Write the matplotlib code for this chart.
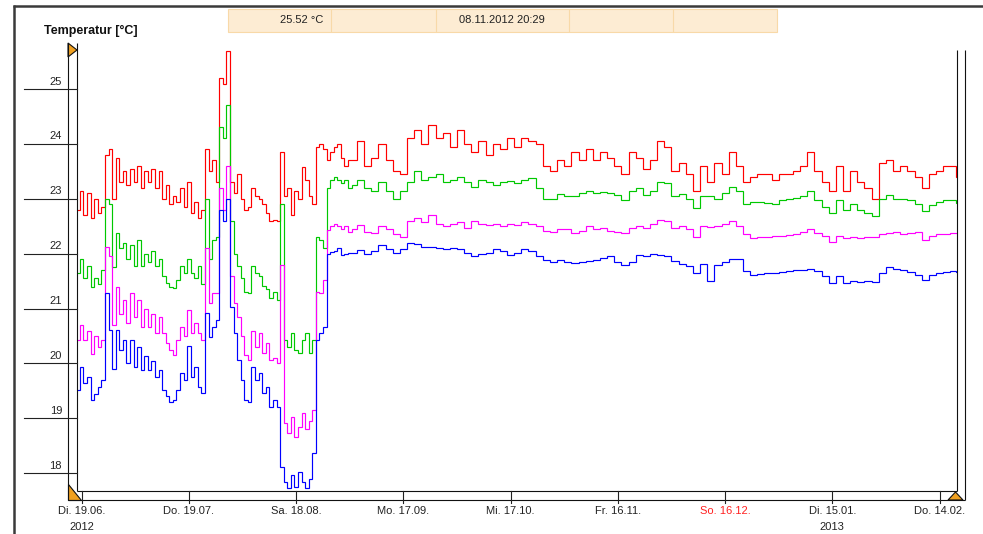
import numpy as np
import matplotlib
matplotlib.use("Agg")
import matplotlib.pyplot as plt
from matplotlib.lines import Line2D
from matplotlib.patches import Polygon, Rectangle
import matplotlib.transforms as mtransforms

plt.rcParams['font.family'] = ['Liberation Sans', 'DejaVu Sans']

# ---------------- data ----------------
# days since Di. 19.06.2012 (daily until day 75, then every 2 days)
days = np.concatenate([np.arange(-1, 76), np.arange(76, 245, 2), [245]])

red = [
    22.8, 23.15, 22.7, 23.1, 22.65, 23.0, 22.75, 22.85, 23.8, 23.9,
    23.0, 23.75, 23.3, 23.5, 23.25, 23.55, 23.3, 23.6, 23.2, 23.5,
    23.3, 23.55, 23.2, 23.5, 23.0, 23.25, 22.9, 23.05, 22.95, 23.2,
    22.85, 23.3, 22.75, 22.95, 22.65, 22.8, 23.9, 23.5, 23.7, 23.3,
    25.2, 25.1, 25.7, 23.3, 23.1, 23.45, 23.0, 22.8, 22.85, 23.2,
    23.05, 23.0, 22.9, 22.75, 22.6, 22.62, 22.6, 23.85, 23.05, 23.2,
    22.7, 23.15, 23.0, 23.58, 23.35, 23.05, 22.9, 23.95, 24.0, 23.9,
    23.7, 23.85, 23.95, 24.0, 23.75, 23.6, 23.7,
    23.7, 24.05, 23.6, 23.75, 24.0, 23.7, 23.5, 23.45, 24.1, 24.25,
    24.0, 24.35, 24.1, 24.2, 23.95, 24.25, 24.0, 23.85, 24.05, 23.8,
    24.0, 23.9, 24.1, 23.95, 24.1, 24.05, 24.0, 23.6, 23.5, 23.7,
    23.6, 23.85, 23.7, 23.9, 23.7, 23.85, 23.75, 23.6, 23.45, 23.85,
    23.75, 23.55, 23.7, 24.05, 23.95, 23.5, 23.65, 23.45, 23.15, 23.6,
    23.3, 23.65, 23.45, 23.85, 23.6, 23.3, 23.4, 23.45, 23.45, 23.35,
    23.45, 23.45, 23.5, 23.6, 23.85, 23.5, 23.3, 23.15, 23.6, 23.15,
    23.5, 23.3, 23.2, 23.0, 23.65, 23.7, 23.5, 23.6, 23.5, 23.4,
    23.2, 23.45, 23.5, 23.6, 23.6,
    23.4,
]

green = [
    21.65, 21.9, 21.55, 21.77, 21.4, 21.55, 21.45, 21.7, 23.0, 22.9,
    21.75, 22.38, 22.1, 22.2, 21.9, 22.15, 21.78, 22.25, 21.78, 22.0,
    21.85, 22.05, 21.78, 21.9, 21.6, 21.47, 21.4, 21.38, 21.53, 21.78,
    21.65, 21.9, 21.65, 21.55, 21.78, 21.45, 23.0, 21.9, 22.25, 22.3,
    24.3, 24.1, 24.7, 22.6, 22.0, 21.78, 21.55, 21.3, 21.28, 21.78,
    21.65, 21.6, 21.42, 21.35, 21.2, 21.3, 21.15, 22.9, 20.43, 20.3,
    20.55, 20.25, 20.2, 20.43, 20.55, 20.2, 20.43, 22.3, 22.25, 22.1,
    23.2, 23.35, 23.4, 23.35, 23.28, 23.35, 23.2,
    23.25, 23.35, 23.2, 23.15, 23.3, 23.15, 23.0, 23.15, 23.3, 23.5,
    23.35, 23.4, 23.45, 23.3, 23.35, 23.4, 23.3, 23.22, 23.35, 23.3,
    23.25, 23.3, 23.32, 23.28, 23.35, 23.38, 23.2, 23.0, 23.0, 23.08,
    23.05, 23.05, 23.1, 23.15, 23.1, 23.13, 23.1, 23.07, 22.98, 23.15,
    23.2, 23.07, 23.15, 23.3, 23.28, 23.05, 23.08, 23.0, 22.83, 23.05,
    23.05, 23.0, 23.1, 23.22, 23.15, 22.9, 22.95, 22.95, 22.92, 22.9,
    22.97, 23.0, 23.02, 23.05, 23.15, 22.98, 22.85, 22.74, 22.98, 22.8,
    22.9, 22.8, 22.75, 22.68, 23.0, 23.07, 23.0, 23.0, 22.97, 22.9,
    22.78, 22.88, 22.95, 22.98, 22.97,
    22.93,
]

magenta = [
    20.43, 20.7, 20.43, 20.6, 20.17, 20.5, 20.3, 20.43, 22.12, 21.95,
    20.7, 21.4, 20.9, 21.15, 20.73, 21.28, 20.85, 21.15, 20.67, 21.0,
    20.67, 20.9, 20.56, 20.85, 20.56, 20.37, 20.25, 20.16, 20.43, 20.67,
    20.5, 20.97, 20.56, 20.73, 20.56, 20.43, 22.1, 21.1, 21.28, 21.28,
    23.2, 22.8, 23.6, 21.6, 21.1, 20.85, 20.5, 20.15, 20.06, 20.6,
    20.3, 20.55, 20.2, 20.37, 20.06, 20.1, 20.0, 21.8, 18.91, 18.73,
    19.03, 18.67, 18.85, 19.1, 18.8, 18.95, 19.15, 21.3, 21.28, 21.52,
    22.43, 22.5, 22.55, 22.5, 22.45, 22.5, 22.4,
    22.45, 22.52, 22.4, 22.38, 22.5, 22.45, 22.35, 22.3, 22.6, 22.65,
    22.58, 22.7, 22.55, 22.5, 22.55, 22.58, 22.47, 22.6, 22.55, 22.52,
    22.55, 22.5, 22.55, 22.52, 22.58, 22.55, 22.5, 22.42, 22.4, 22.45,
    22.45, 22.38, 22.42, 22.5, 22.45, 22.47, 22.42, 22.4, 22.38, 22.47,
    22.5, 22.47, 22.55, 22.62, 22.6, 22.47, 22.5, 22.45, 22.31, 22.5,
    22.48, 22.5, 22.55, 22.6, 22.5, 22.35, 22.28, 22.3, 22.31, 22.32,
    22.33, 22.34, 22.36, 22.4, 22.45, 22.38, 22.32, 22.22, 22.32, 22.28,
    22.3, 22.28, 22.3, 22.3, 22.35, 22.38, 22.4, 22.35, 22.38, 22.4,
    22.25, 22.33, 22.35, 22.36, 22.38,
    22.38,
]

blue = [
    19.52, 19.94, 19.64, 19.76, 19.34, 19.45, 19.58, 19.7, 21.28, 20.61,
    19.9, 20.61, 20.25, 20.43, 20.0, 20.43, 19.94, 20.3, 19.88, 20.13,
    19.88, 20.05, 19.76, 19.88, 19.52, 19.4, 19.3, 19.34, 19.52, 19.82,
    19.7, 20.31, 19.76, 19.94, 19.58, 19.46, 20.92, 20.49, 20.67, 20.8,
    22.8, 22.6, 23.0, 21.03, 20.56, 20.06, 19.7, 19.34, 19.3, 19.94,
    19.7, 19.82, 19.46, 19.58, 19.21, 19.34, 19.21, 18.12, 17.85, 17.73,
    17.97, 17.75, 18.03, 17.85, 17.73, 17.9, 18.37, 20.43, 20.55, 20.67,
    22.0, 22.03, 22.05, 22.1, 21.98, 22.0, 22.02,
    22.02, 22.06, 22.0, 22.05, 22.15, 22.08, 22.02, 22.08, 22.2, 22.17,
    22.13, 22.12, 22.1, 22.08, 22.1, 22.08, 22.02, 21.95, 22.0, 22.02,
    22.08, 22.05, 21.98, 22.02, 22.08, 22.05, 21.95, 21.88, 21.85, 21.88,
    21.85, 21.83, 21.85, 21.87, 21.88, 21.92, 21.95, 21.85, 21.8, 21.85,
    21.97, 21.95, 22.0, 21.98, 21.95, 21.87, 21.82, 21.78, 21.65, 21.82,
    21.5, 21.8, 21.85, 21.9, 21.9, 21.68, 21.62, 21.63, 21.65, 21.65,
    21.66, 21.68, 21.7, 21.7, 21.72, 21.68, 21.6, 21.46, 21.6, 21.47,
    21.5, 21.48, 21.5, 21.48, 21.65, 21.76, 21.72, 21.7, 21.67, 21.62,
    21.52, 21.62, 21.65, 21.66, 21.68,
    21.67,
]

series_colors = ['#ff0000', '#00c800', '#ff00ff', '#0000ff']

y_ticks = [18, 19, 20, 21, 22, 23, 24, 25]
x_tick_days = [0, 30, 60, 90, 120, 150, 180, 210, 240]
x_tick_labels = ['Di. 19.06.', 'Do. 19.07.', 'Sa. 18.08.', 'Mo. 17.09.', 'Mi. 17.10.',
                 'Fr. 16.11.', 'So. 16.12.', 'Di. 15.01.', 'Do. 14.02.']
x_tick_colors = ['#222222'] * 6 + ['#ff2020'] + ['#222222'] * 2
year_labels = {0: '2012', 210: '2013'}

title = 'Temperatur [°C]'
cursor_value = '25.52 °C'
cursor_time = '08.11.2012 20:29'

# ---------------- layout helpers ----------------
W, H = 983, 534
fig = plt.figure(figsize=(W / 100, H / 100), dpi=100)
fig.patch.set_facecolor('white')


def fx(p):
    return p / W


def fy(p):
    return 1 - p / H


def fline(x0, y0, x1, y1, color='#111111', lw=0.8):
    fig.add_artist(Line2D([fx(x0), fx(x1)], [fy(y0), fy(y1)], transform=fig.transFigure,
                          color=color, lw=lw, solid_capstyle='butt'))


L, R, T, B = 76.7, 956.7, 43, 490.7
ax = fig.add_axes([fx(L), fy(B), fx(R) - fx(L), fy(T) - fy(B)])
ax.set_xlim(-1.4, 244.8)
ax.set_ylim(17.683, 25.838)
ax.axis('off')

for vals, col in zip([red, green, magenta, blue], series_colors):
    ax.plot(days, vals, color=col, lw=0.85, drawstyle='steps-mid', solid_joinstyle='miter')

# outer frame
fline(12.5, 5.5, 983, 5.5, color='#3a3a3a', lw=1.8)
fline(14, 4.5, 14, 534, color='#3a3a3a', lw=1.8)

# axis frame (double lines)
fline(68, 43, 68, 500)
fline(L, 43, L, B)
fline(L, B, R, B)
fline(68, 500, 965, 500)
fline(R, 50, R, B)
fline(965, 50, 965, 500)

# y ticks and labels
ty = mtransforms.blended_transform_factory(fig.transFigure, ax.transData)
for v in y_ticks:
    fig.add_artist(Line2D([fx(24), fx(77)], [v, v], transform=ty, color='#222222', lw=0.8))
    fig.text(fx(62), v, str(v), transform=mtransforms.offset_copy(ty, fig=fig, x=0, y=7.5, units='dots'),
             ha='right', va='center', fontsize=8, color='#222222')

# x ticks and labels
tx = mtransforms.blended_transform_factory(ax.transData, fig.transFigure)
for d, lab, c in zip(x_tick_days, x_tick_labels, x_tick_colors):
    fig.add_artist(Line2D([d, d], [fy(B), fy(503)], transform=tx, color='#222222', lw=0.8))
    fig.text(d, fy(511), lab, transform=tx, ha='center', va='center', fontsize=8, color=c)
    if d in year_labels:
        fig.text(d, fy(527), year_labels[d], transform=tx, ha='center', va='center',
                 fontsize=8, color='#222222')

# title
fig.text(fx(43.5), fy(31), title, ha='left', va='center', fontsize=9, fontweight='bold', color='#111111')

# header info bar
fig.add_artist(Rectangle((fx(227.5), fy(31.5)), fx(777.5) - fx(227.5), fy(9) - fy(31.5),
                         transform=fig.transFigure, facecolor='#fdecd3', edgecolor='#f8d9a8', lw=0.8))
for xd in [331, 436.4, 568.5, 673]:
    fline(xd, 9, xd, 31.5, color='#f8d9a8', lw=0.8)
fig.text(fx(323), fy(20), cursor_value, ha='right', va='center', fontsize=8, color='#222222')
fig.text(fx(502), fy(20), cursor_time, ha='center', va='center', fontsize=8, color='#222222')

# orange markers
orange = '#f0a020'
for pts in ([(68, 43), (68, 57), (77, 50)],
            [(68, 484), (68, 500), (81, 500)],
            [(948, 500), (963, 500), (955.5, 492)]):
    fig.add_artist(Polygon([(fx(a), fy(b)) for a, b in pts], closed=True, transform=fig.transFigure,
                           facecolor=orange, edgecolor='#111111', lw=0.8))

fig.savefig('out.png', dpi=100)
